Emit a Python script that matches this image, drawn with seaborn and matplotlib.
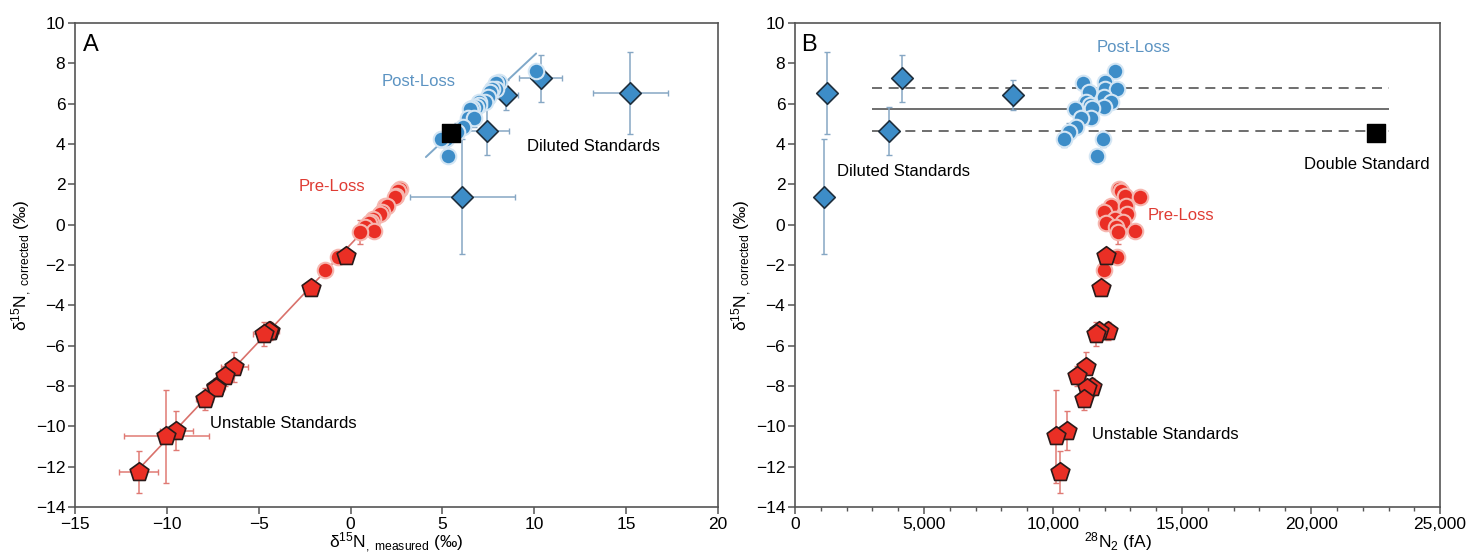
import numpy as np
import matplotlib.pyplot as plt
import seaborn as sns
from matplotlib.ticker import MultipleLocator, FuncFormatter

# Post-Loss samples (circles, blue)
post_y = [7.62, 7.09, 7.01, 6.71, 6.71, 6.56, 6.32, 6.10, 6.10, 5.93,
          5.85, 5.77, 5.75, 5.27, 5.27, 4.86, 4.61, 4.25, 4.23, 3.42]
post_meas = [10.1, 8.1, 7.9, 7.9, 7.7, 7.6, 7.5, 7.3, 7.0, 7.0,
             6.8, 6.6, 6.5, 6.4, 6.7, 6.1, 5.8, 5.2, 4.9, 5.3]
post_n2 = [12390, 12030, 11175, 12000, 12480, 11410, 11980, 12240, 11290, 11420,
           11980, 11510, 10860, 11460, 11100, 10900, 10610, 11940, 10430, 11720]
post_yerr = [0.3, 0.35, 0.3, 0.4, 0.3, 0.3, 0.35, 0.3, 0.3, 0.4,
             0.3, 0.3, 0.35, 0.3, 0.4, 0.35, 0.45, 0.4, 0.35, 0.3]
post_xerr = [0.3, 0.3, 0.35, 0.3, 0.3, 0.3, 0.35, 0.3, 0.3, 0.35,
             0.3, 0.3, 0.3, 0.3, 0.3, 0.3, 0.3, 0.3, 0.35, 0.3]

# Pre-Loss samples (circles, red)
pre_y = [1.75, 1.67, 1.42, 1.39, 0.94, 0.94, 0.64, 0.52, 0.28, 0.15,
         0.07, -0.10, -0.31, -0.35, -1.62, -2.25]
pre_meas = [2.7, 2.6, 2.45, 2.4, 1.9, 2.0, 1.7, 1.6, 1.2, 1.1,
            1.0, 0.8, 1.3, 0.5, -0.7, -1.4]
pre_n2 = [12560, 12630, 12780, 13360, 12260, 12840, 11980, 12880, 12390, 12710,
          12070, 12450, 13190, 12520, 12480, 11990]
pre_yerr = [0.25, 0.25, 0.3, 0.25, 0.3, 0.3, 0.4, 0.3, 0.3, 0.3,
            0.3, 0.3, 0.3, 0.6, 0.25, 0.3]
pre_xerr = [0.3, 0.3, 0.3, 0.3, 0.3, 0.35, 0.3, 0.3, 0.3, 0.3,
            0.3, 0.3, 0.35, 0.3, 0.3, 0.3]

# Unstable standards (pentagons)
unst_y = [-1.55, -3.15, -5.25, -5.25, -5.43, -7.04, -7.50, -8.06, -8.10, -8.64,
          -10.21, -10.50, -12.25]
unst_meas = [-0.27, -2.13, -4.40, -4.45, -4.69, -6.32, -6.85, -7.34, -7.30, -7.94,
             -9.50, -10.03, -11.54]
unst_n2 = [12070, 11870, 12130, 11780, 11680, 11290, 10940, 11520, 11330, 11200,
           10550, 10120, 10270]
unst_yerr = [0.3, 0.35, 0.45, 0.4, 0.6, 0.75, 0.5, 0.45, 0.4, 0.55, 0.95, 2.3, 1.05]
unst_xerr = [0.3, 0.35, 0.5, 0.45, 0.6, 0.75, 0.5, 0.5, 0.4, 0.45, 0.9, 2.3, 1.05]

# Diluted standards (diamonds)
dil_y = [7.26, 6.43, 6.54, 4.66, 1.39]
dil_meas = [10.35, 8.45, 15.22, 7.45, 6.09]
dil_n2 = [4150, 8450, 1250, 3630, 1120]
dil_yerr = [1.15, 0.75, 2.02, 1.19, 2.86]
dil_xerr = [1.18, 0.64, 2.04, 1.16, 2.86]

# Double standard (square)
dbl_y = [4.53]
dbl_meas = [5.45]
dbl_n2 = [22500]
dbl_yerr = [0.3]
dbl_xerr = [0.4]

# reference mean +/- sd in panel B
ref_mean = 5.72
ref_sd = 1.07
ref_span = [3000, 23000]

BLUE = '#3d8dc8'
BLUE_EDGE = '#d4e6f4'
BLUE_ERR = '#86a7c4'
RED = '#ea2f25'
RED_EDGE = '#f6b7b0'
RED_ERR = '#e07a74'

sns.set_theme(style='ticks')
plt.rcParams['font.family'] = ['Liberation Sans', 'DejaVu Sans']
plt.rcParams['mathtext.fontset'] = 'custom'
plt.rcParams['mathtext.rm'] = 'Liberation Sans'
plt.rcParams['mathtext.it'] = 'Liberation Sans'
plt.rcParams['mathtext.default'] = 'regular'
plt.rcParams['text.color'] = 'black'
plt.rcParams['axes.labelcolor'] = 'black'
plt.rcParams['xtick.labelcolor'] = 'black'
plt.rcParams['ytick.labelcolor'] = 'black'

fig = plt.figure(figsize=(14.68, 5.53), dpi=100)
axA = fig.add_axes([0.0511, 0.0832, 0.438, 0.875])
axB = fig.add_axes([0.5416, 0.0832, 0.4394, 0.875])


def draw_group(ax, x, y, xerr, yerr, marker, s, color, edge, ecolor, lw, z):
    ax.errorbar(x, y, xerr=xerr, yerr=yerr, fmt='none', ecolor=ecolor,
                elinewidth=1.1, capsize=2, capthick=1, zorder=z - 1)
    sns.scatterplot(x=x, y=y, marker=marker, s=s, color=color, edgecolor=edge,
                    linewidth=lw, ax=ax, zorder=z, legend=False)


# ---------- Panel A ----------
# regression lines
red_x = np.array(pre_meas + unst_meas)
red_y = np.array(pre_y + unst_y)
k, b = np.polyfit(red_x, red_y, 1)
xs = np.array([red_x.min(), red_x.max()])
axA.plot(xs, k * xs + b, color='#d9716b', lw=1.2, zorder=1)

k2, b2 = np.polyfit(post_meas, post_y, 1)
xs2 = np.array([min(post_meas) - 0.8, max(post_meas)])
axA.plot(xs2, k2 * xs2 + b2, color='#7fa8c9', lw=1.4, zorder=1)

draw_group(axA, dil_meas, dil_y, dil_xerr, dil_yerr, 'D', 120, BLUE, '#1f2f3d', BLUE_ERR, 1.2, 4)
draw_group(axA, post_meas, post_y, post_xerr, post_yerr, 'o', 125, BLUE, BLUE_EDGE, BLUE_ERR, 1.5, 6)
draw_group(axA, pre_meas, pre_y, pre_xerr, pre_yerr, 'o', 125, RED, RED_EDGE, RED_ERR, 1.5, 6)
draw_group(axA, unst_meas, unst_y, unst_xerr, unst_yerr, 'p', 200, RED, '#2a1a1a', RED_ERR, 1.2, 8)
draw_group(axA, dbl_meas, dbl_y, dbl_xerr, dbl_yerr, 's', 150, 'black', 'black', '#333333', 1, 10)

axA.set_xlim(-15, 20)
axA.set_ylim(-14, 10)
axA.xaxis.set_major_locator(MultipleLocator(5))
axA.yaxis.set_major_locator(MultipleLocator(2))
axA.set_xlabel('δ$^{15}$N$_{,\\ measured}$ (‰)', fontsize=12.5, labelpad=-1)
axA.set_ylabel('δ$^{15}$N$_{,\\ corrected}$ (‰)', fontsize=12.5, labelpad=1)

axA.text(-14.55, 8.9, 'A', fontsize=17, va='center', ha='left')
axA.text(1.69, 7.12, 'Post-Loss', fontsize=12, color='#5b93c2', va='center', ha='left')
axA.text(-2.85, 1.92, 'Pre-Loss', fontsize=12, color='#df3b33', va='center', ha='left')
axA.text(9.6, 3.87, 'Diluted Standards', fontsize=12, va='center', ha='left')
axA.text(-7.63, -9.88, 'Unstable Standards', fontsize=12, va='center', ha='left')

# ---------- Panel B ----------
axB.hlines(ref_mean, *ref_span, color='#555555', lw=1.2, zorder=1)
axB.hlines([ref_mean + ref_sd, ref_mean - ref_sd], *ref_span, color='#555555',
           lw=1.2, linestyles=(0, (6, 4)), zorder=1)

draw_group(axB, dil_n2, dil_y, None, dil_yerr, 'D', 120, BLUE, '#1f2f3d', BLUE_ERR, 1.2, 4)
draw_group(axB, post_n2, post_y, None, post_yerr, 'o', 125, BLUE, BLUE_EDGE, BLUE_ERR, 1.5, 6)
draw_group(axB, pre_n2, pre_y, None, pre_yerr, 'o', 125, RED, RED_EDGE, RED_ERR, 1.5, 6)
draw_group(axB, unst_n2, unst_y, None, unst_yerr, 'p', 200, RED, '#2a1a1a', RED_ERR, 1.2, 8)
draw_group(axB, dbl_n2, dbl_y, None, dbl_yerr, 's', 150, 'black', 'black', '#333333', 1, 10)

axB.set_xlim(0, 25000)
axB.set_ylim(-14, 10)
axB.xaxis.set_major_locator(MultipleLocator(5000))
axB.xaxis.set_minor_locator(MultipleLocator(1000))
axB.yaxis.set_major_locator(MultipleLocator(2))
axB.xaxis.set_major_formatter(FuncFormatter(lambda v, p: f'{int(v):,}'))
axB.set_xlabel('$^{28}$N$_2$ (fA)', fontsize=12.5, labelpad=-1)
axB.set_ylabel('δ$^{15}$N$_{,\\ corrected}$ (‰)', fontsize=12.5, labelpad=1)

axB.text(230, 8.9, 'B', fontsize=17, va='center', ha='left')
axB.text(11700, 8.8, 'Post-Loss', fontsize=12, color='#5b93c2', va='center', ha='left')
axB.text(13680, 0.48, 'Pre-Loss', fontsize=12, color='#df3b33', va='center', ha='left')
axB.text(1640, 2.63, 'Diluted Standards', fontsize=12, va='center', ha='left')
axB.text(19720, 3.01, 'Double Standard', fontsize=12, va='center', ha='left')
axB.text(11520, -10.38, 'Unstable Standards', fontsize=12, va='center', ha='left')

for ax in (axA, axB):
    for sp in ax.spines.values():
        sp.set_color('#555555')
        sp.set_linewidth(1.2)
    ax.tick_params(axis='both', which='major', direction='out', length=5,
                   width=1.1, color='#555555', labelsize=12.5, pad=2)
    ax.tick_params(axis='both', which='minor', direction='out', length=3,
                   width=1, color='#555555')

fig.savefig('out.png', dpi=100)
